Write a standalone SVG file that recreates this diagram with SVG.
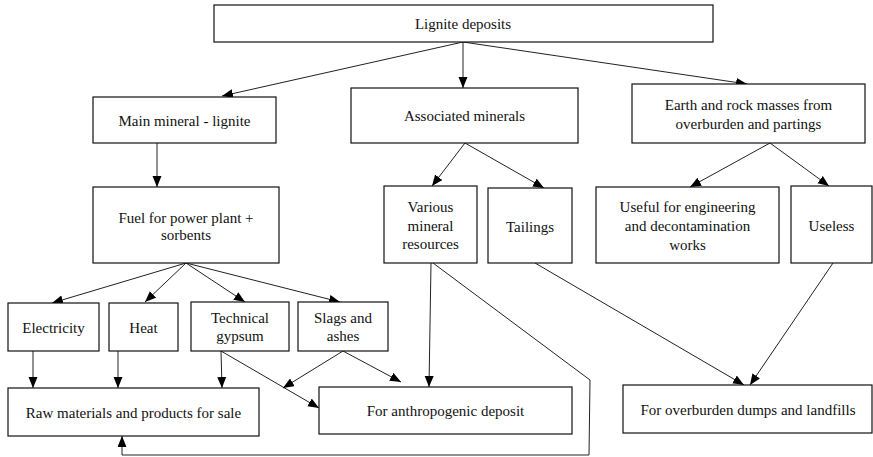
<svg xmlns="http://www.w3.org/2000/svg" width="873" height="457" viewBox="0 0 873 457">
  <style>
    .box { fill: #fff; stroke: #111; stroke-width: 1.2; }
    .lbl { font-family: "Liberation Serif", "Times New Roman", serif; font-size: 15px; fill: #111; text-anchor: middle; }
    .conn { fill: none; stroke: #222; stroke-width: 1; marker-end: url(#arrow); }
  </style>
  <defs>
    <marker id="arrow" markerUnits="userSpaceOnUse" markerWidth="12" markerHeight="10" refX="11" refY="4.5" orient="auto">
      <path d="M0,0 L11,4.5 L0,9 z" fill="#000"/>
    </marker>
  </defs>
  <rect width="873" height="457" fill="#fff"/>

  <!-- all arrows and the return path -->
  <g id="connectors">
    <line class="conn" x1="463" y1="42" x2="222" y2="96"/>
    <line class="conn" x1="463" y1="42" x2="463" y2="88"/>
    <line class="conn" x1="463" y1="42" x2="747" y2="84"/>
    <line class="conn" x1="157" y1="143" x2="157" y2="187"/>
    <line class="conn" x1="186" y1="263" x2="52" y2="303"/>
    <line class="conn" x1="186" y1="263" x2="145" y2="302"/>
    <line class="conn" x1="186" y1="263" x2="245" y2="302"/>
    <line class="conn" x1="186" y1="263" x2="340" y2="302"/>
    <line class="conn" x1="33" y1="351" x2="33" y2="388"/>
    <line class="conn" x1="118" y1="351" x2="118" y2="388"/>
    <line class="conn" x1="221" y1="351" x2="222" y2="388"/>
    <line class="conn" x1="221" y1="351" x2="319" y2="408"/>
    <line class="conn" x1="343" y1="351" x2="283" y2="388"/>
    <line class="conn" x1="343" y1="351" x2="401" y2="382"/>
    <line class="conn" x1="465" y1="143" x2="432" y2="186"/>
    <line class="conn" x1="465" y1="143" x2="544" y2="188"/>
    <line class="conn" x1="770" y1="143" x2="690" y2="187"/>
    <line class="conn" x1="770" y1="143" x2="829" y2="186"/>
    <line class="conn" x1="431" y1="263" x2="429" y2="387"/>
    <polyline class="conn" points="433,263 590,380 589,455 122,455 122,436"/>
    <line class="conn" x1="535" y1="263" x2="744" y2="385"/>
    <line class="conn" x1="833" y1="263" x2="750" y2="385"/>
  </g>

  <g id="lignite-deposits">
    <rect class="box" x="214" y="5" width="499" height="37"/>
    <text class="lbl" x="463" y="29">Lignite deposits</text>
  </g>
  <g id="main-mineral">
    <rect class="box" x="93" y="97" width="183" height="46"/>
    <text class="lbl" x="184.5" y="126">Main mineral - lignite</text>
  </g>
  <g id="associated-minerals">
    <rect class="box" x="351" y="88" width="227" height="55"/>
    <text class="lbl" x="464.5" y="121">Associated minerals</text>
  </g>
  <g id="earth-rock">
    <rect class="box" x="632" y="84" width="233" height="59"/>
    <text class="lbl" x="748.5" y="110">Earth and rock masses from</text>
    <text class="lbl" x="748.5" y="129">overburden and partings</text>
  </g>
  <g id="fuel">
    <rect class="box" x="93" y="187" width="186" height="76"/>
    <text class="lbl" x="186" y="223">Fuel for power plant +</text>
    <text class="lbl" x="186" y="240">sorbents</text>
  </g>
  <g id="various-minerals">
    <rect class="box" x="384" y="186" width="93" height="77"/>
    <text class="lbl" x="430.5" y="212">Various</text>
    <text class="lbl" x="430.5" y="231">mineral</text>
    <text class="lbl" x="430.5" y="249">resources</text>
  </g>
  <g id="tailings">
    <rect class="box" x="488" y="188" width="84" height="75"/>
    <text class="lbl" x="530" y="232">Tailings</text>
  </g>
  <g id="useful">
    <rect class="box" x="596" y="187" width="183" height="76"/>
    <text class="lbl" x="687.5" y="212">Useful for engineering</text>
    <text class="lbl" x="687.5" y="231">and decontamination</text>
    <text class="lbl" x="687.5" y="250">works</text>
  </g>
  <g id="useless">
    <rect class="box" x="791" y="186" width="81" height="77"/>
    <text class="lbl" x="831.5" y="231">Useless</text>
  </g>
  <g id="electricity">
    <rect class="box" x="8" y="303" width="91" height="48"/>
    <text class="lbl" x="53.5" y="333">Electricity</text>
  </g>
  <g id="heat">
    <rect class="box" x="109" y="303" width="69" height="48"/>
    <text class="lbl" x="143.5" y="333">Heat</text>
  </g>
  <g id="technical-gypsum">
    <rect class="box" x="191" y="302" width="98" height="49"/>
    <text class="lbl" x="240" y="323">Technical</text>
    <text class="lbl" x="240" y="341">gypsum</text>
  </g>
  <g id="slags-ashes">
    <rect class="box" x="298" y="302" width="90" height="49"/>
    <text class="lbl" x="343" y="323">Slags and</text>
    <text class="lbl" x="343" y="341">ashes</text>
  </g>
  <g id="raw-materials">
    <rect class="box" x="8" y="388" width="251" height="48"/>
    <text class="lbl" x="133.5" y="418">Raw materials and products for sale</text>
  </g>
  <g id="anthropogenic-deposit">
    <rect class="box" x="319" y="387" width="253" height="47"/>
    <text class="lbl" x="445.5" y="416">For anthropogenic deposit</text>
  </g>
  <g id="overburden-dumps">
    <rect class="box" x="623" y="385" width="249" height="48"/>
    <text class="lbl" x="748" y="415">For overburden dumps and landfills</text>
  </g>
</svg>
